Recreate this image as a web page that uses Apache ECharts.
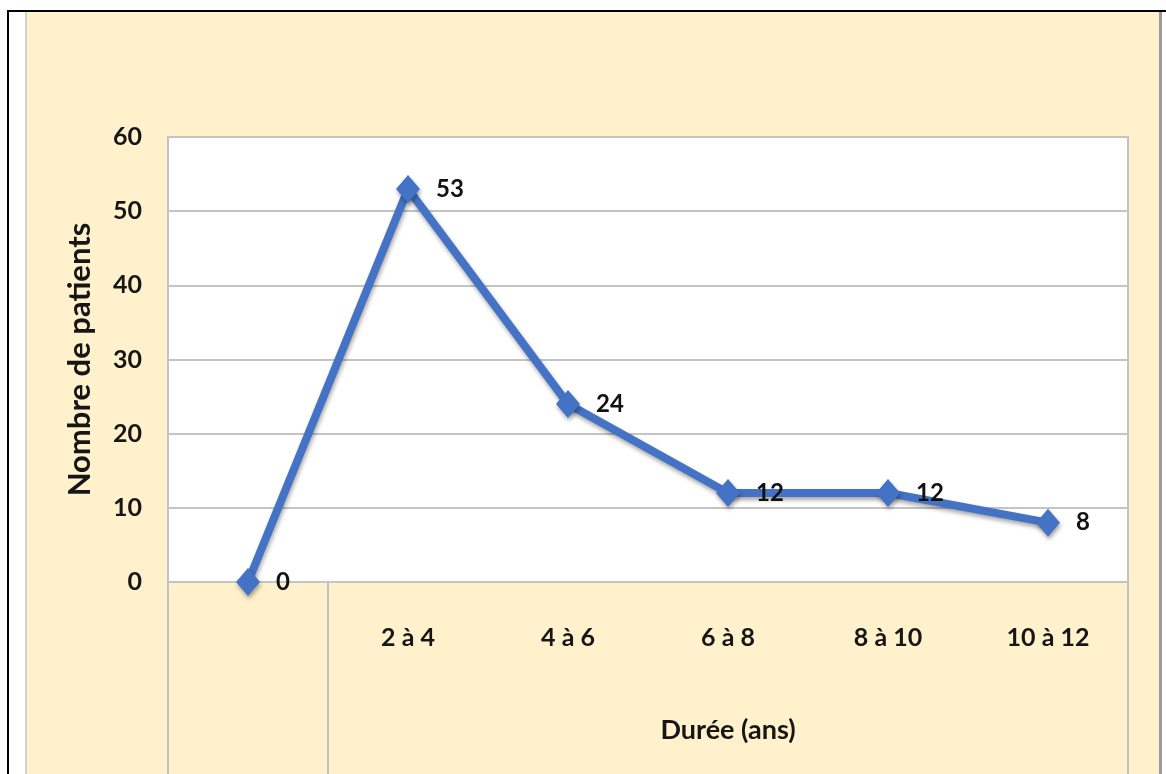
<!DOCTYPE html>
<html>
<head>
<meta charset="utf-8">
<script src="https://cdn.jsdelivr.net/npm/echarts@6/dist/echarts.min.js"></script>
<style>
  html, body { margin: 0; padding: 0; background: #fff; overflow: hidden; width: 1166px; height: 774px; }
  #frame { position: absolute; left: 7px; top: 10px; width: 1200px; height: 800px; border-left: 2px solid #000; border-top: 2px solid #000; }
  #cream { position: absolute; left: 25px; top: 12px; width: 1132px; height: 800px; background: #FEF1CC; border-left: 2px solid #d2d2d2; border-right: 3px solid #9a9a9a; }
  #chart { position: absolute; left: 0; top: 0; width: 1166px; height: 774px; }
</style>
</head>
<body>
<div id="frame"></div>
<div id="cream"></div>
<div id="chart"></div>
<script>
const categories = ['', '2 à 4', '4 à 6', '6 à 8', '8 à 10', '10 à 12'];
const patients = [0, 53, 24, 12, 12, 8];
const yMin = 0, yMax = 60, yStep = 10;
const tableBoundaries = [0, 1, 6];
const xTitle = 'Durée (ans)';
const yTitle = 'Nombre de patients';

const font = "Lato, 'Liberation Sans', sans-serif";
const gridGrey = '#c4c4c4';

const chart = echarts.init(document.getElementById('chart'), null, { renderer: 'canvas' });
chart.setOption({
  backgroundColor: 'transparent',
  animation: false,
  grid: {
    left: 168, top: 137, right: 38, bottom: 192,
    show: true, backgroundColor: '#ffffff', borderColor: gridGrey, borderWidth: 2,
    outerBoundsMode: 'none'
  },
  xAxis: [
    {
      type: 'category',
      data: categories,
      boundaryGap: true,
      axisLine: { show: true, lineStyle: { color: gridGrey, width: 2 } },
      axisTick: { show: false },
      axisLabel: { margin: 43, fontFamily: font, fontWeight: 'bold', fontSize: 25, color: '#161616' },
      name: xTitle,
      nameLocation: 'middle',
      nameGap: 135,
      nameTextStyle: { fontFamily: font, fontWeight: 'bold', fontSize: 27, color: '#161616', padding: [0, 0, 0, 160] }
    },
    {
      type: 'value',
      position: 'bottom',
      min: 0, max: categories.length,
      axisLine: { show: false },
      axisLabel: { show: false },
      splitLine: { show: false },
      axisTick: { show: true, length: 192, lineStyle: { color: gridGrey, width: 2 }, customValues: tableBoundaries }
    }
  ],
  yAxis: {
    type: 'value',
    min: yMin, max: yMax, interval: yStep,
    axisLine: { show: false },
    axisTick: { show: false },
    splitLine: { show: true, lineStyle: { color: gridGrey, width: 2 } },
    axisLabel: { margin: 26, fontFamily: font, fontWeight: 'bold', fontSize: 25, color: '#161616' },
    name: yTitle,
    nameLocation: 'middle',
    nameGap: 73,
    nameTextStyle: { fontFamily: font, fontWeight: 'bold', fontSize: 31, color: '#161616' }
  },
  series: [{
    type: 'line',
    xAxisIndex: 0,
    data: patients,
    symbol: 'diamond',
    symbolSize: [24, 28],
    lineStyle: { color: '#4472C4', width: 8, shadowColor: 'rgba(0,0,0,0.35)', shadowBlur: 4, shadowOffsetX: 1, shadowOffsetY: 3 },
    itemStyle: { color: '#4472C4', shadowColor: 'rgba(0,0,0,0.35)', shadowBlur: 4, shadowOffsetX: 1, shadowOffsetY: 3 },
    label: { show: true, position: 'right', distance: 16, fontFamily: font, fontWeight: 'bold', fontSize: 24, color: '#111' },
    z: 5
  }]
});
</script>
</body>
</html>
